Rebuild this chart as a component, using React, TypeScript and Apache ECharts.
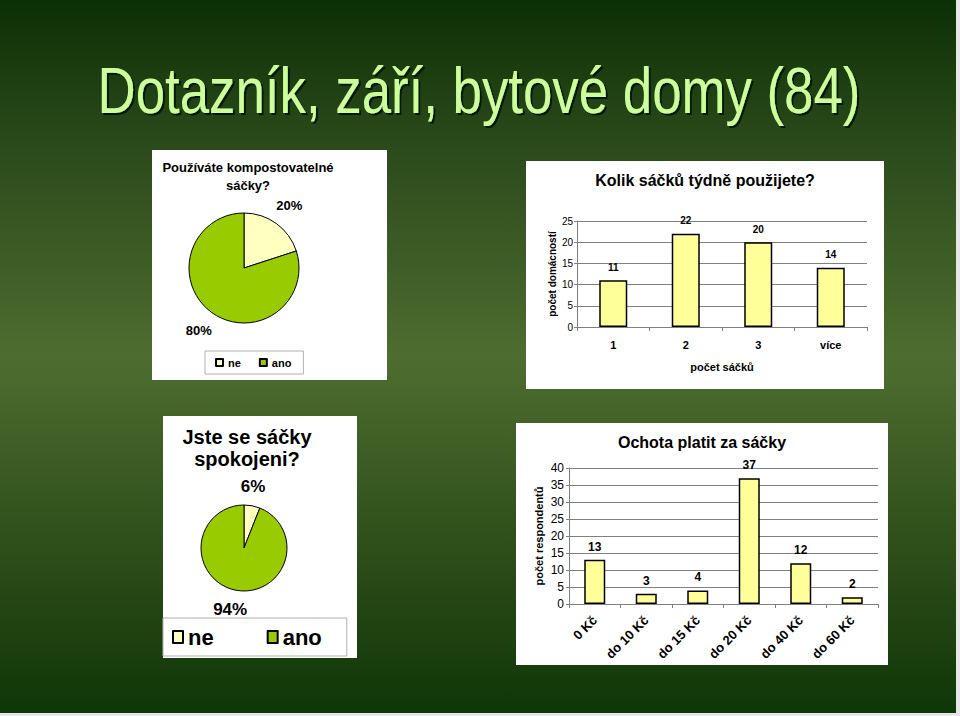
import React, { useEffect, useRef } from 'react';
import * as echarts from 'echarts';

const slideTitle = 'Dotazník, září, bytové domy (84)';
const pieNames = ['ne', 'ano'];
const useValues = [20, 80];
const satisfiedValues = [6, 94];
const bagCountCategories = ['1', '2', '3', 'více'];
const bagCountValues = [11, 22, 20, 14];
const priceCategories = ['0 Kč', 'do 10 Kč', 'do 15 Kč', 'do 20 Kč', 'do 40 Kč', 'do 60 Kč'];
const priceValues = [13, 3, 4, 37, 12, 2];

const FONT = '"Liberation Sans", Arial, Helvetica, sans-serif';
const YELLOW_PIE = '#ffffc0';
const YELLOW_BAR = '#ffff99';
const GREEN = '#99cc00';

function pieData(values: number[]) {
  return pieNames.map((n, i) => ({
    name: n,
    value: values[i],
    itemStyle: { color: i === 0 ? YELLOW_PIE : GREEN },
  }));
}

export default function App() {
  const ref = useRef<HTMLDivElement>(null);
  useEffect(() => {
    document.body.style.margin = '0';
    if (!ref.current) return;
    const chart = echarts.init(ref.current, undefined, { renderer: 'svg' });
    const panel = (x: number, y: number, w: number, h: number) => ({
      type: 'rect',
      shape: { x, y, width: w, height: h },
      style: { fill: '#ffffff' },
      silent: true,
    });
    const text = (x: number, y: number, t: string, font: string, extra: any = {}, el: any = {}) => ({
      type: 'text',
      x,
      y,
      silent: true,
      ...el,
      style: {
        text: t,
        font,
        fill: '#000',
        textAlign: 'center',
        textVerticalAlign: 'middle',
        ...extra,
      },
    });
    const option: any = {
      animation: false,
      backgroundColor: {
        type: 'linear',
        x: 0,
        y: 0,
        x2: 0,
        y2: 1,
        colorStops: [
          { offset: 0, color: '#0b3005' },
          { offset: 0.2, color: '#2b4a1b' },
          { offset: 0.5, color: '#4d6d30' },
          { offset: 0.8, color: '#2a4a17' },
          { offset: 1, color: '#0e3606' },
        ],
      },
      textStyle: { fontFamily: FONT, color: '#000' },
      graphic: [
        { type: 'rect', shape: { x: 956, y: 0, width: 4, height: 716 }, style: { fill: '#e6e6e6' }, silent: true },
        { type: 'rect', shape: { x: 0, y: 713, width: 960, height: 3 }, style: { fill: '#e6e6e6' }, silent: true },
        panel(152, 150, 235, 230),
        panel(526, 161, 358, 228),
        panel(163, 416, 194, 242),
        panel(516, 423, 372, 242),
        text(
          479,
          91,
          slideTitle,
          'normal 64px "Liberation Sans Narrow", "Arial Narrow", "Liberation Sans", sans-serif',
          {
            fill: '#ccff99',
            textShadowColor: 'rgba(5,20,2,0.95)',
            textShadowBlur: 1,
            textShadowOffsetX: 2,
            textShadowOffsetY: 2,
          },
          { scaleX: 0.825 }
        ),
        text(248, 158, 'Používáte kompostovatelné\nsáčky?', `bold 13px ${FONT}`, { textVerticalAlign: 'top', lineHeight: 18 }),
        text(705, 180, 'Kolik sáčků týdně použijete?', `bold 16px ${FONT}`),
        text(247, 426, 'Jste se sáčky\nspokojeni?', `bold 20px ${FONT}`, { textVerticalAlign: 'top', lineHeight: 22 }),
        text(702, 442, 'Ochota platit za sáčky', `bold 16px ${FONT}`),
      ],
      legend: [
        {
          data: pieNames,
          left: 205,
          top: 351,
          padding: [6, 12, 6, 10],
          itemGap: 18,
          itemWidth: 7,
          itemHeight: 7,
          icon: 'rect',
          borderColor: '#b0b0b0',
          borderWidth: 1,
          selectedMode: false,
          textStyle: { fontSize: 11, fontWeight: 'bold', color: '#000', fontFamily: FONT },
        },
        {
          data: pieNames,
          left: 163,
          top: 618,
          padding: [8, 25, 8, 9],
          itemGap: 53,
          itemWidth: 10,
          itemHeight: 12,
          icon: 'rect',
          borderColor: '#b0b0b0',
          borderWidth: 1,
          selectedMode: false,
          textStyle: { fontSize: 22, fontWeight: 'bold', color: '#000', fontFamily: FONT },
        },
      ],
      grid: [
        { left: 577, top: 221, width: 290, height: 106, show: true, backgroundColor: '#c0c0c0', borderColor: '#8c8c8c', borderWidth: 1 },
        { left: 569, top: 468, width: 309, height: 136, show: true, backgroundColor: '#c0c0c0', borderColor: '#8c8c8c', borderWidth: 1 },
      ],
      xAxis: [
        {
          gridIndex: 0,
          type: 'category',
          data: bagCountCategories,
          axisLine: { lineStyle: { color: '#808080' } },
          axisTick: { show: true, length: 4, lineStyle: { color: '#808080' } },
          axisLabel: { fontSize: 11, fontWeight: 'bold', color: '#000', margin: 12 },
          name: 'počet sáčků',
          nameLocation: 'middle',
          nameGap: 34,
          nameTextStyle: { fontSize: 11, fontWeight: 'bold', color: '#000' },
        },
        {
          gridIndex: 1,
          type: 'category',
          data: priceCategories,
          axisLine: { lineStyle: { color: '#808080' } },
          axisTick: { show: true, length: 4, lineStyle: { color: '#808080' } },
          axisLabel: { fontSize: 13, fontWeight: 'bold', color: '#000', margin: 14, rotate: 45 },
        },
      ],
      yAxis: [
        {
          gridIndex: 0,
          type: 'value',
          min: 0,
          max: 25,
          interval: 5,
          axisLine: { show: true, lineStyle: { color: '#808080' } },
          axisTick: { show: true, length: 3, lineStyle: { color: '#808080' } },
          splitLine: { lineStyle: { color: '#808080' } },
          axisLabel: { fontSize: 10, color: '#000', margin: 4 },
          name: 'počet domácností',
          nameLocation: 'middle',
          nameGap: 20,
          nameRotate: 90,
          nameTextStyle: { fontSize: 10, fontWeight: 'bold', color: '#000' },
        },
        {
          gridIndex: 1,
          type: 'value',
          min: 0,
          max: 40,
          interval: 5,
          axisLine: { show: true, lineStyle: { color: '#808080' } },
          axisTick: { show: true, length: 3, lineStyle: { color: '#808080' } },
          splitLine: { lineStyle: { color: '#808080' } },
          axisLabel: { fontSize: 12, color: '#000', margin: 5 },
          name: 'počet respondentů',
          nameLocation: 'middle',
          nameGap: 25,
          nameRotate: 90,
          nameTextStyle: { fontSize: 11, fontWeight: 'bold', color: '#000' },
        },
      ],
      series: [
        {
          type: 'pie',
          silent: true,
          center: [244, 268],
          radius: 55,
          startAngle: 90,
          clockwise: true,
          data: pieData(useValues),
          itemStyle: { borderColor: '#000', borderWidth: 1 },
          label: { show: true, position: 'outside', formatter: '{c}%', fontSize: 13, fontWeight: 'bold', color: '#000', distanceToLabelLine: -13 },
          labelLine: { show: false, length: 22, length2: 0 },
        },
        {
          type: 'pie',
          silent: true,
          center: [244, 548],
          radius: 43,
          startAngle: 90,
          clockwise: true,
          data: pieData(satisfiedValues),
          itemStyle: { borderColor: '#000', borderWidth: 1 },
          label: { show: true, position: 'outside', formatter: '{c}%', fontSize: 17, fontWeight: 'bold', color: '#000', distanceToLabelLine: -15 },
          labelLine: { show: false, length: 20, length2: 0 },
        },
        {
          type: 'bar',
          silent: true,
          xAxisIndex: 0,
          yAxisIndex: 0,
          data: bagCountValues,
          barWidth: 28,
          itemStyle: { color: YELLOW_BAR, borderColor: '#000', borderWidth: 1.5 },
          label: { show: true, position: 'top', distance: 8, fontSize: 10, fontWeight: 'bold', color: '#000' },
        },
        {
          type: 'bar',
          silent: true,
          xAxisIndex: 1,
          yAxisIndex: 1,
          data: priceValues,
          barWidth: 21,
          itemStyle: { color: YELLOW_BAR, borderColor: '#000', borderWidth: 1.5 },
          label: { show: true, position: 'top', distance: 7, fontSize: 12, fontWeight: 'bold', color: '#000' },
        },
      ],
    };
    chart.setOption(option);
    return () => chart.dispose();
  }, []);
  return <div ref={ref} style={{ width: 960, height: 716 }} />;
}
